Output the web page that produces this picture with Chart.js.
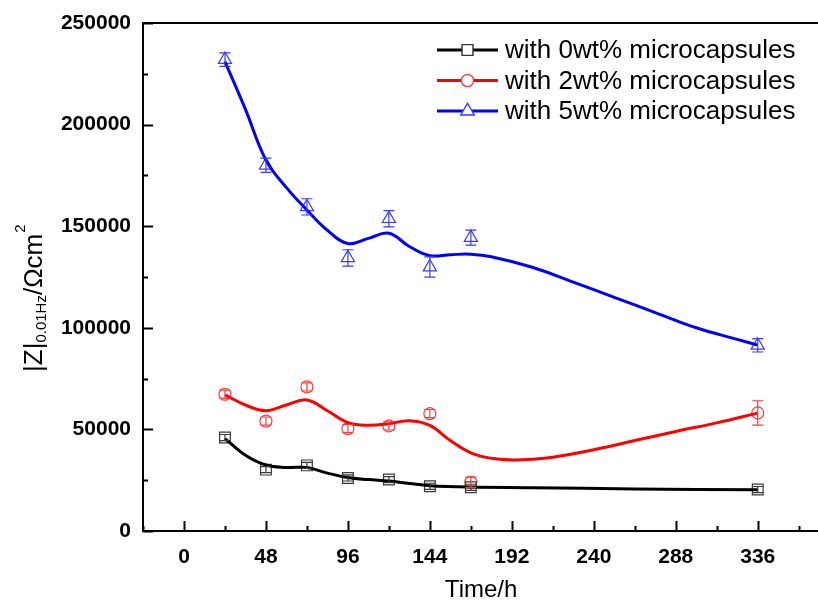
<!DOCTYPE html>
<html>
<head>
<meta charset="utf-8">
<script src="https://cdn.jsdelivr.net/npm/chart.js@4.4.0/dist/chart.umd.min.js"></script>
<style>
  html, body { margin: 0; padding: 0; background: #fff; overflow: hidden; }
  #caixa { position: relative; width: 828px; height: 606px; }
</style>
</head>
<body>
<div id="caixa"><canvas id="grafico"></canvas></div>
<script>
// dados medidos (tempo em horas, |Z| a 0.01 Hz)
const times = [24, 48, 72, 96, 120, 144, 168, 336]
const z0 = [46000, 30200, 32300, 26100, 25300, 22000, 21500, 20400]
const z0Err = [1500, 1500, 1500, 1500, 1500, 1500, 1500, 1500]
const z2 = [67300, 54100, 70900, 50400, 51700, 57800, 24000, 58100]
const z2Err = [2000, 2000, 2000, 2000, 2000, 2000, 2500, 6000]
const z5 = [232000, 180000, 159500, 134400, 153700, 129900, 144400, 91400]
const z5Err = [3300, 3500, 4000, 4000, 4000, 5000, 3700, 3300]

// curvas suavizadas
const fitTime0 = [24, 36, 48, 60, 72, 84, 96, 108, 120, 132, 144, 168, 204, 264, 336]
const fit0 = [45500, 37300, 32500, 31300, 31200, 28500, 26300, 25300, 24600, 23400, 22300, 21600, 21300, 20700, 20300]
const fitTime2 = [24, 36, 48, 60, 72, 84, 96, 108, 120, 132, 144, 156, 168, 180, 192, 204, 216, 240, 264, 288, 312, 336]
const fit2 = [67000, 62000, 59200, 62000, 64500, 59200, 53300, 52000, 52800, 54300, 52000, 44500, 38500, 35800, 35000, 35300, 36300, 40000, 44500, 49000, 53200, 58000]
const fitTime5 = [24, 36, 48, 60, 72, 84, 96, 108, 120, 132, 144, 156, 168, 180, 204, 228, 252, 276, 300, 324, 336]
const fit5 = [231000, 207500, 182500, 169000, 158000, 148000, 141500, 144000, 146500, 140000, 135500, 136000, 136200, 135000, 129800, 122500, 115000, 107500, 100000, 94300, 91500]

const labels = ['with 0wt% microcapsules', 'with 2wt% microcapsules', 'with 5wt% microcapsules']
const xTicks = [0, 48, 96, 144, 192, 240, 288, 336]
const yTicks = [0, 50000, 100000, 150000, 200000, 250000]

const fonte = '"Liberation Sans", Arial, sans-serif'

function pontos(xs, ys) {
    return xs.map((x, i) => ({ x: x, y: ys[i] }))
}

const series = [
    { label: labels[0], cor: '#000000', corPonto: '#3a3a3a', estilo: 'rect', raio: 7.6, dados: z0, erros: z0Err, fitX: fitTime0, fitY: fit0 },
    { label: labels[1], cor: '#ff0000', corPonto: '#ff3a3a', estilo: 'circle', raio: 6, dados: z2, erros: z2Err, fitX: fitTime2, fitY: fit2 },
    { label: labels[2], cor: '#0000ff', corPonto: '#3a3aff', estilo: 'triangle', raio: 7.6, dados: z5, erros: z5Err, fitX: fitTime5, fitY: fit5 }
]

const datasets = []
series.forEach(s => {
    datasets.push({
        label: s.label,
        data: pontos(s.fitX, s.fitY),
        showLine: true,
        borderColor: s.cor,
        borderWidth: 3,
        pointRadius: 0,
        tension: 0.4
    })
    datasets.push({
        label: s.label + ' pontos',
        data: pontos(times, s.dados),
        showLine: false,
        pointStyle: s.estilo,
        pointRadius: s.raio,
        pointBorderWidth: 1.2,
        pointBorderColor: s.corPonto,
        pointBackgroundColor: 'rgba(0,0,0,0)',
        erros: s.erros,
        corErro: s.corPonto
    })
})

// barras de erro
const barrasErro = {
    id: 'barrasErro',
    afterDatasetsDraw(chart) {
        const c = chart.ctx
        const xs = chart.scales.x
        const ys = chart.scales.y
        chart.data.datasets.forEach(ds => {
            if (!ds.erros) return
            c.save()
            c.strokeStyle = ds.corErro
            c.lineWidth = 1.2
            ds.data.forEach((p, i) => {
                const px = xs.getPixelForValue(p.x)
                const top = ys.getPixelForValue(p.y + ds.erros[i])
                const bot = ys.getPixelForValue(p.y - ds.erros[i])
                c.beginPath()
                c.moveTo(px, top); c.lineTo(px, bot)
                c.moveTo(px - 5.5, top); c.lineTo(px + 5.5, top)
                c.moveTo(px - 5.5, bot); c.lineTo(px + 5.5, bot)
                c.stroke()
            })
            c.restore()
        })
    }
}

// moldura, ticks para dentro, titulos e legenda
const moldura = {
    id: 'moldura',
    afterDraw(chart) {
        const c = chart.ctx
        const a = chart.chartArea
        const xs = chart.scales.x
        const ys = chart.scales.y
        c.save()
        c.strokeStyle = '#000'
        c.lineWidth = 2
        c.beginPath()
        c.moveTo(a.left - 1, a.top); c.lineTo(a.right, a.top)
        c.moveTo(a.right, a.top); c.lineTo(a.right, a.bottom)
        c.stroke()

        c.beginPath()
        for (let v = -24; v <= 372; v += 24) {
            const px = Math.round(xs.getPixelForValue(v)) + 0.5
            const len = (v % 48 === 0) ? 10 : 5
            c.moveTo(px, a.bottom); c.lineTo(px, a.bottom - len)
        }
        for (let v = 0; v <= 250000; v += 25000) {
            const py = Math.round(ys.getPixelForValue(v)) + 0.5
            const len = (v % 50000 === 0) ? 10 : 5
            c.moveTo(a.left, py); c.lineTo(a.left + len, py)
        }
        c.stroke()

        // titulo do eixo x
        c.fillStyle = '#000'
        c.font = '24px ' + fonte
        c.textAlign = 'center'
        c.textBaseline = 'middle'
        c.fillText('Time/h', (a.left + a.right) / 2, 590)

        // titulo do eixo y com indice e expoente
        c.save()
        c.translate(42, 372)
        c.rotate(-Math.PI / 2)
        c.textAlign = 'left'
        c.textBaseline = 'alphabetic'
        let pos = 0
        c.font = '26px ' + fonte
        c.fillText('|Z|', pos, 0); pos += c.measureText('|Z|').width
        c.font = '15px ' + fonte
        c.fillText('0.01Hz', pos, 4); pos += c.measureText('0.01Hz').width
        c.font = '26px ' + fonte
        c.fillText('/\u03A9cm', pos, 0); pos += c.measureText('/\u03A9cm').width
        c.font = '15px ' + fonte
        c.fillText('2', pos + 1, -17)
        c.restore()

        // legenda
        series.forEach((s, i) => {
            const ly = 50 + i * 30.5
            c.strokeStyle = s.cor
            c.lineWidth = 3
            c.beginPath()
            c.moveTo(437, ly); c.lineTo(498, ly)
            c.stroke()
            c.fillStyle = '#fff'
            c.strokeStyle = s.corPonto
            c.lineWidth = 1.2
            Chart.helpers.drawPoint(c, { pointStyle: s.estilo, radius: s.raio, borderWidth: 1.2 }, 467.5, ly)
            c.fill()
            c.stroke()
            c.fillStyle = '#000'
            c.font = '26px ' + fonte
            c.textAlign = 'left'
            c.textBaseline = 'middle'
            c.fillText(s.label, 505, ly + 1)
        })
        c.restore()
    }
}

const config = {
    type: 'scatter',
    data: { datasets },
    options: {
        responsive: true,
        maintainAspectRatio: false,
        animation: false,
        devicePixelRatio: 1,
        layout: { padding: { top: 23, right: 3, left: 0, bottom: 0 } },
        plugins: { legend: { display: false }, tooltip: { enabled: false } },
        scales: {
            x: {
                type: 'linear',
                min: -24,
                max: 372,
                afterBuildTicks: s => { s.ticks = xTicks.map(v => ({ value: v })) },
                afterFit: s => { s.height = 75; s.paddingLeft = 0; s.paddingRight = 0 },
                grid: { display: false },
                border: { display: true, color: '#000', width: 2 },
                ticks: {
                    color: '#000',
                    padding: 6,
                    maxRotation: 0,
                    autoSkip: false,
                    font: { family: fonte, size: 21, weight: 'bold' }
                }
            },
            y: {
                min: 0,
                max: 250000,
                afterBuildTicks: s => { s.ticks = yTicks.map(v => ({ value: v })) },
                afterFit: s => { s.width = 143; s.paddingTop = 0; s.paddingBottom = 0 },
                grid: { display: false },
                border: { display: true, color: '#000', width: 2 },
                ticks: {
                    color: '#000',
                    padding: 4,
                    callback: v => String(v),
                    font: { family: fonte, size: 21, weight: 'bold' }
                }
            }
        }
    },
    plugins: [barrasErro, moldura]
}

const meuGrafico = new Chart(document.getElementById('grafico').getContext('2d'), config)
</script>
</body>
</html>
